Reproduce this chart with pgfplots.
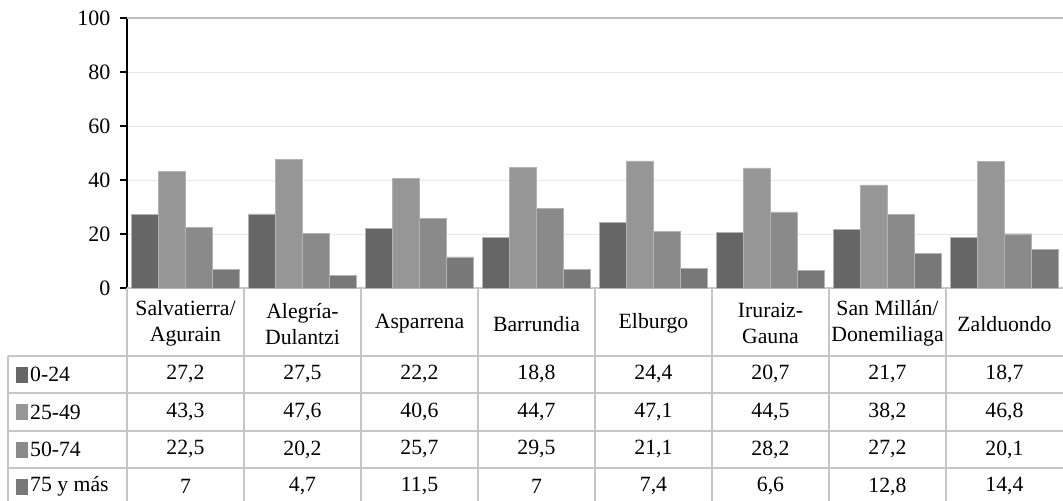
\documentclass[border=0pt]{standalone}
\usepackage{fontspec}
\setmainfont{Liberation Serif}
\usepackage{pgfplots}
\usepackage{pgfplotstable}
\pgfplotsset{compat=1.18}

\definecolor{c1}{HTML}{666666}
\definecolor{c2}{HTML}{969696}
\definecolor{c3}{HTML}{8A8A8A}
\definecolor{c4}{HTML}{787878}
\definecolor{tline}{HTML}{C6C6C6}

% population share by age group (%)
\pgfplotstableread{
x a b c d
0 27.2 43.3 22.5 7
1 27.5 47.6 20.2 4.7
2 22.2 40.6 25.7 11.5
3 18.8 44.7 29.5 7
4 24.4 47.1 21.1 7.4
5 20.7 44.5 28.2 6.6
6 21.7 38.2 27.2 12.8
7 18.7 46.8 20.1 14.4
}\data

\pgfkeys{/pgf/number format/.cd, use comma, assume math mode=true}

\begin{document}
\fontsize{16.3}{19.5}\selectfont
\begin{tikzpicture}
\begin{axis}[
    x=87.75pt, y=2.025pt,
    xmin=-0.5, xmax=7.5,
    ymin=0, ymax=100,
    axis x line=none,
    axis y line*=left,
    y axis line style={black, line width=1.5pt},
    xtick=\empty,
    ytick={0,20,...,100},
    tick align=outside,
    major tick length=5.25pt,
    ytick style={black, line width=1.2pt},
    ymajorgrids=true,
    grid style={black!9, line width=0.75pt},
    yticklabel style={font=\fontsize{16.5}{18}\selectfont, xshift=-1.5pt},
    clip=false,
    ybar,
    bar width=0.2308,
]
% top line and table grid
\draw[black!25, line width=1.6pt] (axis cs:-0.5,100) -- (axis cs:7.5,100);
\draw[tline, line width=1.2pt] (axis cs:-0.5,0) -- (axis cs:7.5,0);
\pgfplotsinvokeforeach{-25.19,-38.89,-52.96,-66.67}{
  \draw[tline, line width=1.2pt] (axis cs:-1.517,#1) -- (axis cs:7.5,#1);
}
\draw[tline, line width=1.2pt] (axis cs:-1.517,-25.19) -- (axis cs:-1.517,-80);
\pgfplotsinvokeforeach{-0.5,0.5,1.5,2.5,3.5,4.5,5.5,6.5}{
  \draw[tline, line width=1.2pt] (axis cs:#1,0) -- (axis cs:#1,-80);
}

\addplot[fill=c1, draw=black!30, line width=0.3pt, bar shift=-0.3462] table[x=x,y=a]{\data};
\addplot[fill=c2, draw=black!30, line width=0.3pt, bar shift=-0.1154] table[x=x,y=b]{\data};
\addplot[fill=c3, draw=black!30, line width=0.3pt, bar shift=0.1154] table[x=x,y=c]{\data};
\addplot[fill=c4, draw=black!30, line width=0.3pt, bar shift=0.3462] table[x=x,y=d]{\data};

% header cells
\node[align=center] at (axis cs:0,-13.2) {Salvatierra/\\Agurain};
\node[align=center] at (axis cs:1,-13.2) {Alegría-\\Dulantzi};
\node[align=center] at (axis cs:2,-13.2) {Asparrena};
\node[align=center] at (axis cs:3,-13.2) {Barrundia};
\node[align=center] at (axis cs:4,-13.2) {Elburgo};
\node[align=center] at (axis cs:5,-13.2) {Iruraiz-\\Gauna};
\node[align=center] at (axis cs:6,-13.2) {San Millán/\\Donemiliaga};
\node[align=center] at (axis cs:7,-13.2) {Zalduondo};

% row labels with legend keys
\fill[c1] (axis cs:-1.4487,-29.1) rectangle (axis cs:-1.3462,-35.0);
\fill[c2] (axis cs:-1.4487,-43.0) rectangle (axis cs:-1.3462,-48.9);
\fill[c3] (axis cs:-1.4487,-56.9) rectangle (axis cs:-1.3462,-62.8);
\fill[c4] (axis cs:-1.4487,-70.6) rectangle (axis cs:-1.3462,-76.5);
\node[anchor=west, inner sep=0pt] at (axis cs:-1.33,-32.0) {0-24};
\node[anchor=west, inner sep=0pt] at (axis cs:-1.33,-45.9) {25-49};
\node[anchor=west, inner sep=0pt] at (axis cs:-1.33,-59.8) {50-74};
\node[anchor=west, inner sep=0pt] at (axis cs:-1.33,-73.5) {75 y más};

% table values from the data
\pgfplotsforeachungrouped \i in {0,...,7}{
  \pgfplotstablegetelem{\i}{a}\of\data \let\va\pgfplotsretval
  \pgfplotstablegetelem{\i}{b}\of\data \let\vb\pgfplotsretval
  \pgfplotstablegetelem{\i}{c}\of\data \let\vc\pgfplotsretval
  \pgfplotstablegetelem{\i}{d}\of\data \let\vd\pgfplotsretval
  \edef\cmd{%
    \noexpand\node at (axis cs:\i,-32.0) {\noexpand\pgfmathprintnumber{\va}};
    \noexpand\node at (axis cs:\i,-45.9) {\noexpand\pgfmathprintnumber{\vb}};
    \noexpand\node at (axis cs:\i,-59.8) {\noexpand\pgfmathprintnumber{\vc}};
    \noexpand\node at (axis cs:\i,-73.5) {\noexpand\pgfmathprintnumber{\vd}};
  }\cmd
}

\coordinate (BL) at (axis cs:-1.5855,-78.89);
\coordinate (TR) at (axis cs:7.5,106.67);
\end{axis}
\pgfresetboundingbox
\useasboundingbox (BL) rectangle (TR);
\end{tikzpicture}
\end{document}
